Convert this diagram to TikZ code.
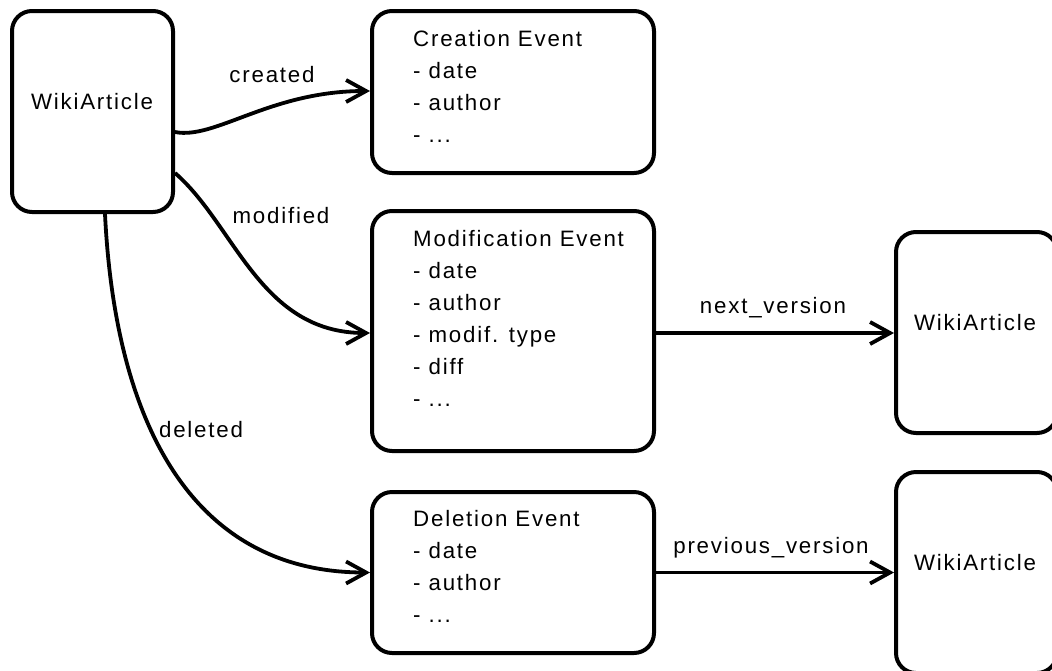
\documentclass[tikz,border=0pt]{standalone}
\usepackage{fontspec}
\setmainfont{Liberation Sans}[LetterSpace=8]
\usetikzlibrary{arrows.meta}
\begin{document}
\begin{tikzpicture}[x=1pt,y=-1pt,
  box/.style={draw, line width=4pt, rounded corners=20pt, rectangle, inner sep=0pt},
  txt/.style={font=\fontsize{22.3}{32}\selectfont, inner sep=0pt},
  conn/.style={line width=3.8pt, -{Straight Barb[length=20pt,width=22pt]}},
  plain/.style={line width=3.8pt}]
\useasboundingbox (0,0) rectangle (1052,670);
% boxes
\node[box, minimum width=161pt, minimum height=201pt] (wa1) at (92.5,111.5) {};
\node[box, minimum width=282pt, minimum height=162pt] (ce) at (513,92) {};
\node[box, minimum width=282pt, minimum height=240pt] (me) at (513,331) {};
\node[box, minimum width=282pt, minimum height=161pt] (de) at (513,572.5) {};
\node[box, minimum width=161pt, minimum height=201pt] (wa2) at (976.5,332.5) {};
\node[box, minimum width=161pt, minimum height=201pt] (wa3) at (976.5,572.5) {};
% box texts
\node[txt, anchor=base] (wa1t) at (92,109) {WikiArticle};
\node[txt, anchor=base] (wa2t) at (975,330) {WikiArticle};
\node[txt, anchor=base] (wa3t) at (975,570) {WikiArticle};
\node[txt, anchor=base west] (cet) at (413,46) {\begin{tabular}[t]{@{}l@{}}Creation Event\\- date\\- author\\- ...\end{tabular}};
\node[txt, anchor=base west] (met) at (413,246) {\begin{tabular}[t]{@{}l@{}}Modification Event\\- date\\- author\\- modif. type\\- diff\\- ...\end{tabular}};
\node[txt, anchor=base west] (det) at (413,526) {\begin{tabular}[t]{@{}l@{}}Deletion Event\\- date\\- author\\- ...\end{tabular}};
% connectors
\draw[conn] ([yshift=-20.5pt]wa1.east) .. controls (215,140) and (270,91) .. ([yshift=1pt]ce.west);
\draw[conn] ([yshift=-61.5pt]wa1.east) .. controls (235,225) and (260,333) .. ([yshift=-2pt]me.west);
\draw[conn] ([xshift=12.5pt]wa1.south) .. controls (115,420) and (190,572.5) .. (de.west);
\draw[conn] ([yshift=-2pt]me.east) -- ([yshift=-2pt]me.east -| wa2.west);
\draw[conn] (de.east) -- (de.east -| wa3.west);
% connector labels
\node[txt, anchor=base] (lc) at (272,82) {created};
\node[txt, anchor=base] (lm) at (281,223) {modified};
\node[txt, anchor=base] (ld) at (201,437) {deleted};
\node[txt, anchor=base] (ln) at (773,313) {next\_version};
\node[txt, anchor=base] (lp) at (771,553) {previous\_version};
\end{tikzpicture}
\end{document}
